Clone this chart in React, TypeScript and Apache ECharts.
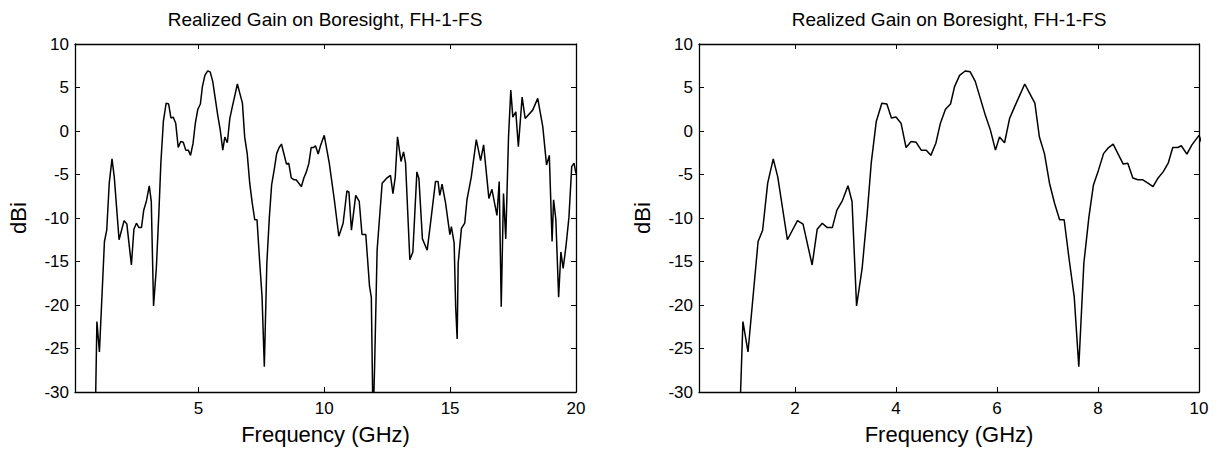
import React, { useEffect, useRef } from "react";
import * as echarts from "echarts";

const titleText = "Realized Gain on Boresight, FH-1-FS";
const xName = "Frequency (GHz)";
const yName = "dBi";

const freqGHz = [
  0.90, 0.97, 1.07, 1.27, 1.36, 1.46, 1.57, 1.66, 1.85, 2.05, 2.16, 2.34, 2.44, 2.54, 2.64, 2.74,
  2.83, 2.94, 3.05, 3.13, 3.22, 3.33, 3.43, 3.51, 3.61, 3.72, 3.82, 3.91, 4.00, 4.10, 4.20, 4.30,
  4.40, 4.50, 4.60, 4.69, 4.79, 4.88, 4.98, 5.08, 5.16, 5.26, 5.37, 5.47, 5.57, 5.67, 5.77, 5.87,
  5.97, 6.05, 6.15, 6.25, 6.35, 6.45, 6.55, 6.65, 6.75, 6.84, 6.94, 7.04, 7.14, 7.24, 7.33, 7.43,
  7.53, 7.62, 7.72, 7.82, 7.91, 8.01, 8.11, 8.21, 8.30, 8.40, 8.50, 8.59, 8.69, 8.79, 8.88, 8.99,
  9.09, 9.19, 9.29, 9.39, 9.48, 9.58, 9.65, 9.76, 9.86, 10.00,
  10.20, 10.40, 10.58, 10.75, 10.90, 10.98, 11.08, 11.25, 11.39, 11.50, 11.65, 11.80, 11.87, 11.94,
  12.00, 12.10, 12.30, 12.47, 12.63, 12.73, 12.82, 12.91, 13.05, 13.15, 13.23, 13.40, 13.52, 13.68,
  13.76, 13.90, 14.09, 14.25, 14.42, 14.52, 14.59, 14.68, 14.82, 14.99, 15.05, 15.16, 15.22, 15.28,
  15.32, 15.45, 15.58, 15.67, 15.84, 16.04, 16.21, 16.33, 16.54, 16.66, 16.86, 16.95, 17.03, 17.12,
  17.21, 17.32, 17.41, 17.49, 17.61, 17.71, 17.86, 17.98, 18.28, 18.48, 18.68, 18.83, 18.94, 19.05,
  19.11, 19.20, 19.31, 19.40, 19.49, 19.60, 19.72, 19.83, 19.92, 20.00,
];

const gainDBi = [
  -34, -21.9, -25.4, -12.7, -11.4, -6.0, -3.2, -5.3, -12.5, -10.3, -10.7, -15.4, -11.3, -10.6, -11.1, -11.1,
  -9.1, -8.0, -6.3, -8.1, -20.1, -15.8, -9.5, -3.7, 1.1, 3.2, 3.1, 1.5, 1.6, 0.9, -1.9, -1.2,
  -1.3, -2.2, -2.2, -2.8, -1.4, 0.9, 2.5, 3.1, 5.1, 6.4, 6.9, 6.8, 5.7, 3.75, 1.8, 0.1,
  -2.2, -0.7, -1.35, 1.45, 2.8, 4.1, 5.4, 4.3, 3.2, -0.7, -2.6, -6.0, -8.3, -10.2, -10.2, -14.8,
  -19.1, -27.1, -15.2, -9.9, -6.2, -4.5, -2.6, -1.9, -1.5, -2.65, -3.8, -3.7, -5.4, -5.6, -5.6, -6.0,
  -6.4, -5.4, -4.7, -3.7, -1.9, -1.9, -1.7, -2.65, -1.6, -0.5,
  -3.7, -7.9, -12.1, -10.6, -6.9, -7.0, -11.4, -7.4, -8.1, -11.9, -11.9, -17.9, -19.1, -34,
  -27.1, -13.7, -6.0, -5.45, -5.1, -7.2, -5.3, -0.66, -3.5, -2.4, -3.7, -14.8, -13.9, -4.7,
  -5.45, -12.4, -13.7, -9.9, -5.8, -5.8, -7.4, -6.1, -8.3, -11.9, -11.0, -12.9, -20.2, -23.9,
  -15.2, -11.2, -10.6, -7.9, -5.3, -1.0, -3.4, -1.6, -7.75, -6.7, -9.7, -5.8, -20.2, -7.2,
  -12.4, -0.66, 4.7, 1.6, 2.2, -1.8, 3.9, 1.45, 2.4, 3.75, 0.5, -3.9, -2.8, -12.7,
  -7.9, -10.2, -19.1, -13.9, -15.8, -13.3, -9.9, -4.1, -3.7, -4.9,
];

const leftXTicks = [5, 10, 15, 20];
const rightXTicks = [2, 4, 6, 8, 10];
const xMin = 0.1;
const leftXMax = 20;
const rightXMax = 10;
const yMin = -30;
const yMax = 10;
const yStep = 5;

const FONT = "'Liberation Sans', Arial, Helvetica, sans-serif";

export default function App() {
  const ref = useRef<HTMLDivElement>(null);
  useEffect(() => {
    if (!ref.current) return;
    const chart = echarts.init(ref.current, null, { renderer: "svg" });
    const data = freqGHz.map((f, i) => [f, gainDBi[i]]);
    const grids = [
      { left: 75, top: 44, width: 501, height: 348 },
      { left: 699, top: 44, width: 500, height: 348 },
    ];
    const lineStyle = { color: "#000", width: 1.3 };
    const tickStyle = { show: true, inside: true, length: 5, lineStyle: { color: "#000", width: 1 } };
    const labelStyle = { color: "#000", fontSize: 17, fontFamily: FONT };
    const xAxes: any[] = [];
    const yAxes: any[] = [];
    [leftXMax, rightXMax].forEach((xMax, g) => {
      const ticks = g === 0 ? leftXTicks : rightXTicks;
      xAxes.push({
        type: "value", gridIndex: g, position: "bottom", min: xMin, max: xMax,
        axisLine: { show: true, onZero: false, lineStyle },
        axisTick: { ...tickStyle, customValues: ticks },
        axisLabel: { ...labelStyle, margin: 8, customValues: ticks, showMinLabel: true, showMaxLabel: true },
        splitLine: { show: false },
        name: xName, nameLocation: "middle", nameGap: 31,
        nameTextStyle: { color: "#000", fontSize: 22, fontFamily: FONT },
      });
      xAxes.push({
        type: "value", gridIndex: g, position: "top", min: xMin, max: xMax,
        axisLine: { show: true, onZero: false, lineStyle },
        axisTick: { ...tickStyle, customValues: ticks },
        axisLabel: { show: false, customValues: ticks },
        splitLine: { show: false },
      });
      yAxes.push({
        type: "value", gridIndex: g, position: "left", min: yMin, max: yMax, interval: yStep,
        axisLine: { show: true, onZero: false, lineStyle },
        axisTick: tickStyle,
        axisLabel: { ...labelStyle, margin: 6 },
        splitLine: { show: false },
        name: yName, nameLocation: "middle", nameGap: 46,
        nameTextStyle: { color: "#000", fontSize: 22, fontFamily: FONT },
      });
      yAxes.push({
        type: "value", gridIndex: g, position: "right", min: yMin, max: yMax, interval: yStep,
        axisLine: { show: true, onZero: false, lineStyle },
        axisTick: tickStyle,
        axisLabel: { show: false },
        splitLine: { show: false },
      });
    });
    chart.setOption({
      animation: false,
      backgroundColor: "#fff",
      grid: grids,
      xAxis: xAxes,
      yAxis: yAxes,
      graphic: [
        { type: "text", x: 325, y: 19, style: { text: titleText, fill: "#000", font: `19px ${FONT}`, textAlign: "center", textVerticalAlign: "middle" } },
        { type: "text", x: 949, y: 19, style: { text: titleText, fill: "#000", font: `19px ${FONT}`, textAlign: "center", textVerticalAlign: "middle" } },
      ],
      series: [
        { type: "line", xAxisIndex: 0, yAxisIndex: 0, data, showSymbol: false, symbol: "none", clip: true, lineStyle: { color: "#000", width: 1.5 } },
        { type: "line", xAxisIndex: 2, yAxisIndex: 2, data, showSymbol: false, symbol: "none", clip: true, lineStyle: { color: "#000", width: 1.5 } },
      ],
    });
    return () => chart.dispose();
  }, []);
  return <div ref={ref} style={{ position: "absolute", left: 0, top: 0, width: 1220, height: 450 }} />;
}
